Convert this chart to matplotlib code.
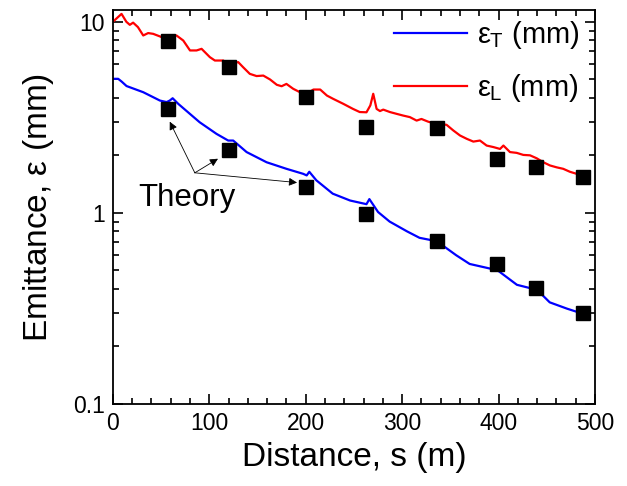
import matplotlib
matplotlib.use("Agg")
import matplotlib.pyplot as plt
from matplotlib.ticker import MultipleLocator, LogLocator, NullFormatter, FixedLocator, FixedFormatter

plt.rcParams['font.family'] = ['Liberation Sans', 'DejaVu Sans']
plt.rcParams['mathtext.fontset'] = 'custom'
plt.rcParams['mathtext.rm'] = 'Liberation Sans'
plt.rcParams['mathtext.it'] = 'Liberation Sans'

# simulated longitudinal emittance (red)
s_long = [0, 9, 14, 17.6, 21, 26, 31.5, 36.6, 41.8, 50.5, 66, 73, 80, 86.8,
          92, 100.6, 105.8, 114.4, 119.6, 130, 135, 142, 149, 156, 163, 170,
          175, 180, 187, 194, 201, 208, 215, 222, 228.5, 239, 249, 256, 263,
          267, 270, 273.5, 277, 280.4, 287.3, 294, 301, 308, 315, 320, 327,
          335.8, 346, 353, 360, 367, 373.8, 380.7, 387.6, 394.5, 401.5, 405,
          411.8, 418.8, 425.6, 432.6, 439.5, 446.4, 453.3, 460.3, 467, 474,
          481, 488, 490]
eps_long = [10.0, 11.0, 10.0, 9.64, 9.9, 9.38, 8.48, 8.73, 8.65, 8.32, 8.48,
            7.98, 7.08, 7.08, 7.22, 6.53, 6.27, 6.27, 6.03, 6.15, 5.79, 5.34,
            5.2, 5.23, 4.99, 4.68, 4.6, 4.73, 4.46, 4.28, 4.2, 4.42, 4.42,
            4.11, 3.95, 3.72, 3.5, 3.37, 3.36, 3.65, 4.2, 3.5, 3.41, 3.47,
            3.37, 3.3, 3.23, 3.17, 3.04, 3.1, 3.0, 2.92, 2.89, 2.7, 2.54,
            2.44, 2.36, 2.39, 2.25, 2.21, 2.16, 2.25, 2.08, 2.06, 2.01, 2.0,
            1.93, 1.84, 1.77, 1.73, 1.7, 1.64, 1.6, 1.57, 1.55]

# simulated transverse emittance (blue)
s_trans = [0, 5.5, 9, 14.2, 31.5, 48.8, 55.7, 59, 62, 67.8, 90, 107.5, 119.6,
           124.8, 138.7, 159.4, 180, 197.4, 201, 203.7, 211, 228, 246, 263,
           266, 275, 287, 305, 318, 336, 356, 370, 388, 399, 419, 440, 453,
           471, 484, 490]
eps_trans = [5.03, 5.03, 4.87, 4.61, 4.28, 3.87, 3.8, 3.87, 3.98, 3.72, 2.98,
             2.59, 2.39, 2.39, 2.08, 1.84, 1.7, 1.6, 1.57, 1.64, 1.48, 1.26,
             1.16, 1.11, 1.18, 1.01, 0.9, 0.8, 0.74, 0.71, 0.6, 0.54, 0.515,
             0.5, 0.42, 0.395, 0.34, 0.315, 0.30, 0.295]

# theory points
s_theory = [57, 120, 200, 263, 336, 398, 439, 488]
theory_long = [7.95, 5.8, 4.05, 2.82, 2.78, 1.92, 1.74, 1.54]
theory_trans = [3.5, 2.14, 1.37, 0.99, 0.71, 0.54, 0.405, 0.30]

# arrow heads for the "Theory" label
arrow_s = [59, 109, 191]
arrow_eps = [3.0, 1.92, 1.44]


def make_plot():
    fig = plt.figure(figsize=(6.27, 4.86), dpi=100)
    ax = fig.add_axes([0.180, 0.169, 0.769, 0.810])

    ax.plot(s_trans, eps_trans, color='#0000ff', lw=1.6,
            label=r'$\epsilon_T$ (mm)')
    ax.plot(s_long, eps_long, color='#ff0000', lw=1.6,
            label=r'$\epsilon_L$ (mm)')
    ax.plot(s_theory, theory_long, 's', color='black', ms=9.5, zorder=5)
    ax.plot(s_theory, theory_trans, 's', color='black', ms=9.5, zorder=5)

    ax.set_yscale('log')
    ax.set_xlim(0, 500)
    ax.set_ylim(0.1, 11.5)
    ax.xaxis.set_major_locator(MultipleLocator(100))
    ax.xaxis.set_minor_locator(MultipleLocator(20))
    ax.yaxis.set_major_locator(FixedLocator([0.1, 1, 10]))
    ax.yaxis.set_major_formatter(FixedFormatter(['0.1', '1', '10']))
    ax.yaxis.set_minor_locator(LogLocator(base=10, subs=range(2, 10)))
    ax.yaxis.set_minor_formatter(NullFormatter())

    ax.tick_params(which='both', direction='in', top=True, right=True,
                   labelsize=16.5, width=1.2)
    ax.tick_params(which='major', length=7, pad=6)
    ax.tick_params(which='minor', length=4)
    for sp in ax.spines.values():
        sp.set_linewidth(1.3)

    ax.set_xlabel('Distance, s (m)', fontsize=24, labelpad=5)
    ax.set_ylabel(r'Emittance, $\epsilon$ (mm)', fontsize=24, labelpad=12)

    ax.text(26, 1.19, 'Theory', fontsize=22.5, va='center', ha='left')
    for xs, ys in zip(arrow_s, arrow_eps):
        ax.annotate('', xy=(xs, ys), xytext=(85, 1.62),
                    arrowprops=dict(arrowstyle='-|>', color='black', lw=0.6,
                                    mutation_scale=12, shrinkA=0, shrinkB=0))

    ax.legend(loc='upper right', bbox_to_anchor=(0.993, 1.008),
              frameon=False, fontsize=21, handlelength=2.5,
              handletextpad=0.35, labelspacing=0.72, borderaxespad=0)

    fig.savefig('out.png', dpi=100)


if __name__ == "__main__":
    make_plot()
